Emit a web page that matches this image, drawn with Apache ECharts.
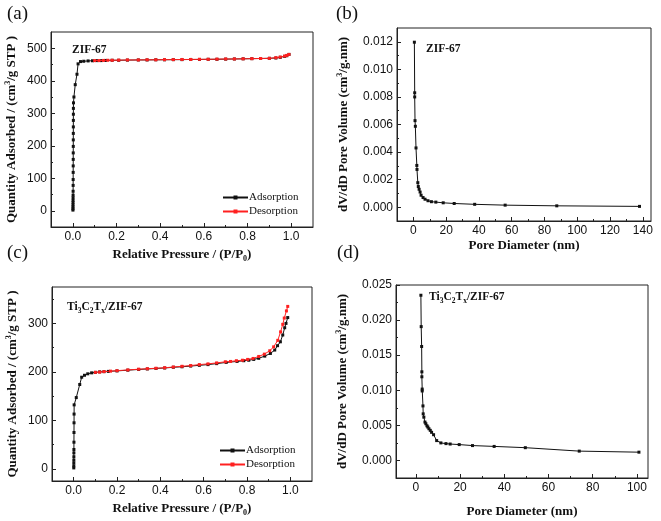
<!DOCTYPE html>
<html><head><meta charset="utf-8">
<script src="https://cdn.jsdelivr.net/npm/echarts@6/dist/echarts.min.js"></script>
<style>html,body{margin:0;padding:0;background:#fff}#c{width:661px;height:521px}</style>
</head><body><div id="c"></div>
<script>
// ---------- Data ----------
// (a) ZIF-67 isotherm
const aAdsP = [0.0005,0.0006,0.0007,0.0008,0.0009,0.001,0.0011,0.0012,0.0013,0.0014,0.0015,0.0016,0.0017,0.0018,0.0019,0.002,0.0021,0.0022,0.0023,0.0024,0.0025,0.0026,0.003,0.005,0.011,0.019,0.024,0.035,0.05,0.07,0.09,0.11,0.13,0.15,0.18,0.21,0.25,0.3,0.34,0.38,0.42,0.46,0.5,0.54,0.58,0.62,0.66,0.7,0.74,0.78,0.82,0.86,0.9,0.93,0.95,0.97,0.98,0.99];
const aAdsV = [2,6,12,18,25,32,40,48,60,78,96,118,138,158,178,198,218,238,258,278,297,315,332,350,388,420,452,459,460,461,461.5,462,462,462.5,463,463,463.5,464,464,464.5,464.5,465,465,465.5,465.5,466,466,466.5,467,467.5,468,468.5,469,470,472,475,477,481];
const aDesP = [0.99,0.98,0.97,0.95,0.93,0.9,0.86,0.82,0.78,0.74,0.7,0.66,0.62,0.58,0.54,0.5,0.46,0.42,0.38,0.34,0.3,0.25,0.21,0.18,0.16,0.14,0.12,0.1];
const aDesV = [481,478,476,473,471,469,468.5,468,467.5,467,467,466.5,466,466,465.5,465.5,465,465,464.5,464.5,464,464,463.5,463,463,462.5,462,462];
// (b) ZIF-67 pore size distribution
const bD = [0.6,0.8,0.8,1.0,1.2,1.6,2.1,2.2,2.7,3.0,3.5,4.1,4.7,5.9,7.1,8.9,11,13.7,18.2,24.9,37.4,56,87.5,138];
const bV = [0.01197,0.0083,0.0080,0.00628,0.00587,0.0043,0.00303,0.00274,0.00178,0.0015,0.0013,0.0011,0.00087,0.0007,0.00058,0.00047,0.0004,0.00037,0.00032,0.00027,0.00021,0.00015,0.0001,0.00006];
// (c) Ti3C2Tx/ZIF-67 isotherm
const cAdsP = [0.0005,0.0006,0.0007,0.0008,0.0009,0.001,0.0011,0.0013,0.0015,0.0017,0.0019,0.0022,0.012,0.028,0.037,0.05,0.065,0.083,0.1,0.12,0.14,0.16,0.2,0.25,0.3,0.34,0.38,0.42,0.46,0.5,0.54,0.58,0.62,0.66,0.704,0.754,0.785,0.808,0.831,0.854,0.882,0.908,0.928,0.941,0.954,0.965,0.974,0.98,0.988];
const cAdsV = [2,6,12,18,25,33,40,55,75,95,113,132,147,174,189,193,196,198,199,200,200.5,201,202,203.5,205,206,207,208,209.5,210.5,212,213.5,215,217,219.5,221.5,223,224,225.7,228,232.5,238,245,254,262,276,291,300,312];
const cDesP = [0.988,0.982,0.972,0.965,0.955,0.942,0.923,0.905,0.88,0.854,0.828,0.803,0.779,0.751,0.724,0.7,0.66,0.62,0.58,0.54,0.5,0.46,0.42,0.38,0.34,0.3,0.25,0.2,0.17,0.14,0.12,0.1];
const cDesV = [335,325.7,311,298,282.5,265,251.6,243.5,236.6,231.8,227.7,225.7,224,223,221.5,220.8,218.5,216.5,215,213,211.5,210,208.5,207.5,206.5,205.5,204,202.5,201.5,200.5,199.5,199];
// (d) Ti3C2Tx/ZIF-67 pore size distribution
const dD = [2.26,2.4,2.6,2.7,2.7,2.85,2.85,3.2,3.3,3.6,4.1,4.5,5,5.4,5.9,6.5,7.1,8,9.4,11.3,13.6,15.5,19.6,25.6,35.4,49.5,73.9,100.9];
const dV = [0.02354,0.01907,0.01624,0.01263,0.01192,0.01017,0.0099,0.00777,0.00664,0.00617,0.00547,0.00523,0.00494,0.00476,0.00452,0.00429,0.00401,0.00367,0.00283,0.0025,0.0024,0.00234,0.00226,0.00212,0.002,0.00182,0.00133,0.00118];

// Tick labels
const isoXTicks = [0,0.2,0.4,0.6,0.8,1.0];
const isoXMinor = [0.1,0.3,0.5,0.7,0.9];
const aYTicks = [0,100,200,300,400,500];
const aYMinor = [50,150,250,350,450];
const bXTicks = [0,20,40,60,80,100,120,140];
const bXMinor = [10,30,50,70,90,110,130];
const bYTicks = [0,0.002,0.004,0.006,0.008,0.010,0.012];
const bYMinor = [0.001,0.003,0.005,0.007,0.009,0.011];
const cYTicks = [0,100,200,300];
const cYMinor = [50,150,250,350];
const dXTicks = [0,20,40,60,80,100];
const dXMinor = [10,30,50,70,90];
const dYTicks = [0,0.005,0.010,0.015,0.020,0.025];
const dYMinor = [0.0025,0.0075,0.0125,0.0175,0.0225];

// ---------- Styling ----------
const SANS = 'Arial, "Liberation Sans", sans-serif';
const SERIF = '"Times New Roman", "Liberation Serif", serif';
const INK = '#222';
const RED = '#ff2020';
const richSS = {
  sup:{fontFamily:SERIF,fontWeight:'bold',fontSize:8,lineHeight:9,verticalAlign:'top',color:'#111'},
  sub:{fontFamily:SERIF,fontWeight:'bold',fontSize:8,lineHeight:9,verticalAlign:'bottom',color:'#111'}
};
function zip(a,b){return a.map((v,i)=>[v,b[i]]);}

const grids = [
  {left:51,top:32,width:262,height:195},
  {left:397,top:28,width:254,height:193},
  {left:52,top:287,width:260,height:194},
  {left:396,top:285,width:252,height:195}
];
const xAxes=[], yAxes=[];
function addAxis(list, dim, gi, min, max, major, minor, fmt, name, gap){
  const pos = dim==='x'?'bottom':'left';
  list.push({type:'value',gridIndex:gi,position:pos,min:min,max:max,
    axisLine:{show:true,onZero:false,lineStyle:{color:INK,width:1}},
    axisTick:{show:true,inside:true,length:4,customValues:major,lineStyle:{color:INK,width:1}},
    axisLabel:{show:true,customValues:major,formatter:fmt,fontFamily:SANS,fontSize:12,color:'#111',margin:4},
    splitLine:{show:false},
    name:name,nameLocation:'middle',nameGap:gap,
    nameTextStyle:{fontFamily:SERIF,fontWeight:'bold',fontSize:13,color:'#111',lineHeight:16,rich:richSS}
  });
  list.push({type:'value',gridIndex:gi,position:pos,min:min,max:max,
    axisLine:{show:false,onZero:false},
    axisTick:{show:true,inside:true,length:2,customValues:minor,lineStyle:{color:INK,width:1}},
    axisLabel:{show:false},splitLine:{show:false}
  });
}
const f1 = v=>v.toFixed(1), f0 = v=>String(Math.round(v)), f3 = v=>v.toFixed(3);
const isoXName = 'Relative Pressure / (P/P{sub|0})';
const isoYName = 'Quantity Adsorbed / (cm{sup|3}/g STP )';
const psdXName = 'Pore Diameter (nm)';
const psdYName = 'dV/dD Pore Volume (cm{sup|3}/g.nm)';
addAxis(xAxes,'x',0,-0.1,1.1,isoXTicks,isoXMinor,f1,isoXName,20);
addAxis(yAxes,'y',0,-50,550,aYTicks,aYMinor,f0,isoYName,31);
addAxis(xAxes,'x',1,-10,145,bXTicks,bXMinor,f0,psdXName,15);
addAxis(yAxes,'y',1,-0.001,0.013,bYTicks,bYMinor,f3,psdYName,45);
addAxis(xAxes,'x',2,-0.1,1.1,isoXTicks,isoXMinor,f1,isoXName,20);
addAxis(yAxes,'y',2,-25,375,cYTicks,cYMinor,f0,isoYName,31);
addAxis(xAxes,'x',3,-9,105,dXTicks,dXMinor,f0,psdXName,26);
addAxis(yAxes,'y',3,-0.0025,0.025,dYTicks,dYMinor,f3,psdYName,45);

function ser(name, gi, data, color, z){
  return {type:'line',name:name,xAxisIndex:2*gi,yAxisIndex:2*gi,data:data,
    symbol:'rect',symbolSize:3,showSymbol:true,color:color,z:z,
    lineStyle:{color:color,width:1},itemStyle:{color:color},animation:false};
}
const tStyle = {fontFamily:SERIF,fontWeight:'normal',fontSize:19,color:'#111'};
const lblStyle = {fontFamily:SERIF,fontWeight:'bold',fontSize:11.5,color:'#111',lineHeight:15,
  rich:{b:{fontFamily:SERIF,fontWeight:'bold',fontSize:11.5,lineHeight:15,color:'#111'},
        s:{fontFamily:SERIF,fontWeight:'bold',fontSize:7.5,lineHeight:8,verticalAlign:'bottom',color:'#111'}}};
const tiLabel = '{b|Ti}{s|3}{b|C}{s|2}{b|T}{s|x}{b|/ZIF-67}';
const legendCommon = {orient:'vertical',itemWidth:25,itemHeight:5,itemGap:3,
  textStyle:{fontFamily:SERIF,fontSize:11,color:'#111',padding:[0,0,0,-4]},data:['Adsorption','Desorption']};

const option = {
  animation:false,
  backgroundColor:'#fff',
  title:[
    {text:'(a)',left:2,top:0,textStyle:tStyle},
    {text:'(b)',left:331,top:0,textStyle:tStyle},
    {text:'(c)',left:2,top:239,textStyle:tStyle},
    {text:'(d)',left:332,top:239,textStyle:tStyle},
    {text:'ZIF-67',left:67,top:38,textStyle:lblStyle},
    {text:'ZIF-67',left:421,top:37,textStyle:lblStyle},
    {text:tiLabel,left:62,top:295,textStyle:lblStyle},
    {text:tiLabel,left:424,top:285,textStyle:lblStyle}
  ],
  grid:grids.map(g=>Object.assign({show:true,borderColor:INK,borderWidth:1,backgroundColor:'transparent'},g)),
  xAxis:xAxes, yAxis:yAxes,
  legend:[
    Object.assign({left:217,top:187},legendCommon),
    Object.assign({left:214,top:440},legendCommon)
  ],
  series:[
    ser('Adsorption',0,zip(aAdsP,aAdsV),'#111',2),
    ser('Desorption',0,zip(aDesP,aDesV),RED,3),
    ser('PSD-b',1,zip(bD,bV),'#111',2),
    ser('Adsorption',2,zip(cAdsP,cAdsV),'#111',2),
    ser('Desorption',2,zip(cDesP,cDesV),RED,3),
    ser('PSD-d',3,zip(dD,dV),'#111',2)
  ]
};
const chart = echarts.init(document.getElementById('c'),null,{renderer:'canvas'});
chart.setOption(option);
</script></body></html>
